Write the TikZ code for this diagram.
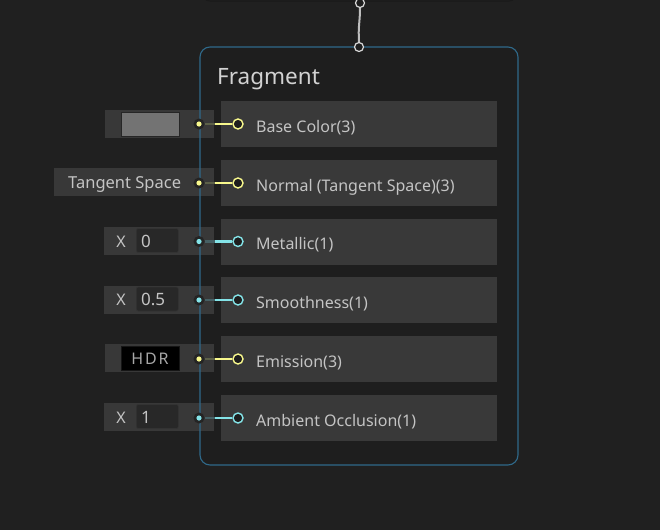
\documentclass[tikz,border=0pt]{standalone}
\usepackage{fontspec}
\setmainfont{Noto Sans}
\definecolor{bgc}{RGB}{32,32,32}
\definecolor{nodec}{RGB}{30,30,30}
\definecolor{slotc}{RGB}{57,57,57}
\definecolor{fieldc}{RGB}{56,56,56}
\definecolor{inputc}{RGB}{40,40,40}
\definecolor{txtc}{RGB}{196,196,196}
\definecolor{titlec}{RGB}{210,210,210}
\definecolor{bordc}{RGB}{47,105,138}
\definecolor{yelc}{RGB}{248,248,140}
\definecolor{cyac}{RGB}{132,228,232}
\definecolor{yeldim}{RGB}{92,96,72}
\definecolor{cyadim}{RGB}{70,96,100}
\definecolor{wirec}{RGB}{190,190,190}
\definecolor{dotbg}{RGB}{36,36,36}
\begin{document}
\begin{tikzpicture}[x=1pt,y=-1pt,
  slotbox/.style={fill=slotc, minimum width=276pt, minimum height=46pt, inner sep=0pt, anchor=west},
  slottext/.style={anchor=base west, inner sep=0pt, text=txtc, font=\fontsize{16}{18}\selectfont},
  fieldbox/.style={fill=fieldc, minimum height=28pt, inner sep=0pt, anchor=east},
  portc/.style={circle, draw=#1, fill=nodec, line width=1.4pt, minimum size=10pt, inner sep=0pt},
  dotc/.style={circle, fill=dotbg, minimum size=11pt, inner sep=0pt, path picture={\fill[#1] (path picture bounding box.center) circle (2.6pt);}},
  wire/.style={draw=#1, line width=2.6pt},
  dimwire/.style={draw=#1, line width=2.6pt},
  numbox/.style={fill=inputc, draw=black!80, line width=0.6pt, rounded corners=2pt, minimum width=42pt, minimum height=24pt, inner sep=0pt, anchor=west},
  numtext/.style={anchor=base west, inner sep=0pt, text=txtc, font=\fontsize{17}{20}\selectfont},
  xlab/.style={anchor=base, inner sep=0pt, text=txtc, font=\fontsize{16}{19}\selectfont}
]
\useasboundingbox (0,0) rectangle (660,530);
\fill[bgc] (0,0) rectangle (660,530);

% top (upstream) node, mostly off-image
\draw[fill=nodec, draw=black!20!bgc, line width=1pt, rounded corners=8pt] (202,-30) rectangle (517,1);
\node[circle, draw=white!85!black, fill=nodec, line width=1.2pt, minimum size=9pt, inner sep=0pt] (outp) at (360,3) {};

% fragment node
\fill[nodec, rounded corners=10pt] (200,47) rectangle (518,465);
\node[anchor=base west, inner sep=0pt, text=titlec, font=\fontsize{22.5}{26}\selectfont] (title) at (217,84) {Fragment};

% slots
\foreach \yy/\lab/\nm in {124/Base Color(3)/s1, 183/Normal (Tangent Space)(3)/s2, 241.5/Metallic(1)/s3, 300/Smoothness(1)/s4, 359/Emission(3)/s5, 418/Ambient Occlusion(1)/s6}{
  \node[slotbox] (\nm) at (221,\yy) {};
  \node[slottext] (\nm t) at (256,\yy+8) {\lab};
}

% inline fields
\node[fieldbox, minimum width=109pt] (f1) at (214,124) {};
\node[fill=gray!50!white!60!black, draw=black!85, line width=1pt, minimum width=58pt, minimum height=24pt, inner sep=0pt] (sw1) at (150,124) {};
\node[fieldbox, minimum width=160pt] (f2) at (214,182) {};
\node[anchor=base west, inner sep=0pt, text=txtc, font=\fontsize{16.5}{19}\selectfont] (f2t) at (68,188) {Tangent Space};
\node[fieldbox, minimum width=110pt] (f3) at (214,241) {};
\node[xlab] (x3) at (121,247) {X};
\node[numbox] (n3) at (136,240.5) {};
\node[numtext] (n3t) at (141,247) {0};
\node[fieldbox, minimum width=110pt] (f4) at (214,299.5) {};
\node[xlab] (x4) at (121,305.5) {X};
\node[numbox] (n4) at (136,299) {};
\node[numtext] (n4t) at (141,305.5) {0.5};
\node[fieldbox, minimum width=109pt] (f5) at (214,358) {};
\node[fill=black, draw=black!60!fieldc, line width=0.8pt, minimum width=58pt, minimum height=24pt, inner sep=0pt] (hdr) at (150,358) {};
\node[anchor=base, inner sep=0pt, text=txtc!85!black, font=\fontsize{16}{19}\selectfont, text width=40pt, align=center] (hdrt) at (150,364) {H\hspace{1.8pt}D\hspace{1.8pt}R};
\node[fieldbox, minimum width=110pt] (f6) at (214,417) {};
\node[xlab] (x6) at (121,423) {X};
\node[numbox] (n6) at (136,416.5) {};
\node[numtext] (n6t) at (141,423) {1};

% fragment border
\draw[bordc, line width=1.1pt, rounded corners=10pt] (200,47) rectangle (518,465);
\node[circle, draw=white!85!black, fill=nodec, line width=1.2pt, minimum size=9pt, inner sep=0pt] (inp) at (359,47) {};

% connection between nodes
\draw[wirec, line width=2pt] (outp.south) .. controls (360,22) and (358,26) .. (inp.north);

% ports and wires
\foreach \yy/\cc/\dc/\nm in {124/yelc/yeldim/1, 183/yelc/yeldim/2, 241.5/cyac/cyadim/3, 300/cyac/cyadim/4, 359/yelc/yeldim/5, 418/cyac/cyadim/6}{
  \node[dotc=\cc] (d\nm) at (199,\yy) {};
  \node[portc=\cc] (p\nm) at (238,\yy) {};
  \coordinate (m\nm) at (215,\yy);
  \draw[dimwire=\dc] (d\nm.east) -- (m\nm);
  \draw[wire=\cc] (m\nm) -- (p\nm.west);
}
\end{tikzpicture}
\end{document}
